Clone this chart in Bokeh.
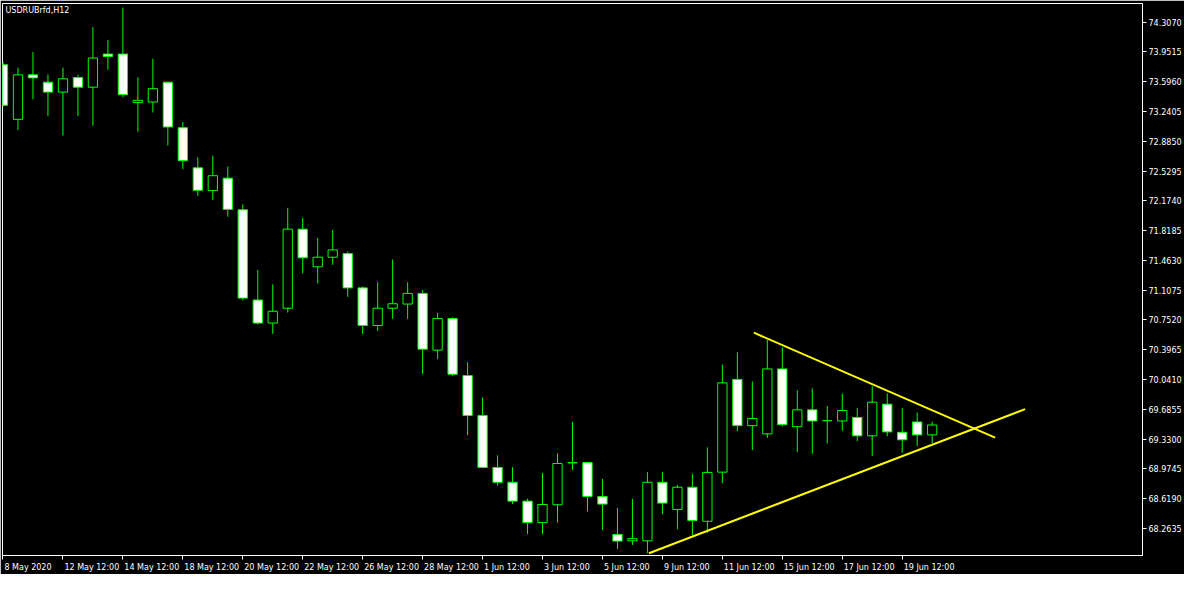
from bokeh.plotting import figure
from bokeh.models import (ColumnDataSource, FixedTicker, PrintfTickFormatter,
                          Label, Range1d)
from bokeh.embed import file_html
from bokeh.resources import INLINE

# ---------------- data (USDRUBrfd, H12 candles) ----------------
symbol_title = "USDRUBrfd,H12"

opens = [73.799, 73.147, 73.678, 73.590, 73.472, 73.646, 73.531, 73.926, 73.926, 73.347,
         73.354, 73.590, 73.047, 72.568, 72.297, 72.445, 72.067, 70.990, 70.715, 70.892,
         71.836, 71.387, 71.501, 71.544, 71.135, 70.686, 70.892, 70.942, 71.069, 70.391,
         70.769, 70.089, 69.612, 68.991, 68.814, 68.589, 68.333, 68.546, 69.045, 69.050,
         68.644, 68.192, 68.115, 68.115, 68.814, 68.490, 68.755, 68.349, 68.935, 70.042,
         69.490, 69.392, 70.167, 69.478, 69.679, 69.549, 69.546, 69.588, 69.369, 69.746,
         69.411, 69.534, 69.380]
highs = [73.835, 73.764, 73.949, 73.681, 73.764, 73.681, 74.248, 74.095, 74.481, 73.649,
         73.870, 73.595, 73.115, 72.693, 72.713, 72.583, 72.132, 71.347, 71.178, 72.091,
         71.969, 71.730, 71.828, 71.568, 71.155, 71.202, 71.474, 71.202, 71.108, 70.836,
         70.785, 70.246, 69.829, 69.136, 68.994, 68.617, 68.924, 69.160, 69.537, 69.054,
         68.853, 68.507, 68.617, 68.935, 68.935, 68.782, 68.915, 69.231, 70.219, 70.367,
         70.018, 70.514, 70.426, 69.912, 69.935, 69.723, 69.872, 69.703, 69.962, 69.876,
         69.703, 69.647, 69.537]
lows = [73.292, 73.020, 73.386, 73.186, 72.953, 73.186, 73.071, 73.740, 73.410, 73.000,
        73.229, 72.835, 72.552, 72.233, 72.186, 71.985, 70.986, 70.698, 70.585, 70.840,
        71.308, 71.187, 71.411, 71.029, 70.585, 70.620, 70.765, 70.765, 70.108, 70.285,
        70.084, 69.376, 68.983, 68.774, 68.554, 68.195, 68.195, 68.333, 68.962, 68.467,
        68.242, 68.018, 68.065, 67.967, 68.431, 68.254, 68.183, 68.212, 68.802, 69.423,
        69.199, 69.345, 69.478, 69.175, 69.156, 69.278, 69.431, 69.305, 69.128, 69.364,
        69.168, 69.246, 69.281]
closes = [73.315, 73.678, 73.642, 73.472, 73.631, 73.531, 73.879, 73.897, 73.442, 73.374,
          73.513, 73.056, 72.654, 72.300, 72.474, 72.072, 71.013, 70.715, 70.856, 71.836,
          71.494, 71.501, 71.588, 71.135, 70.686, 70.892, 70.946, 71.069, 70.403, 70.769,
          70.104, 69.612, 68.991, 68.814, 68.589, 68.333, 68.549, 69.038, 69.050, 68.644,
          68.554, 68.112, 68.141, 68.814, 68.566, 68.755, 68.357, 68.932, 70.001, 69.490,
          69.576, 70.167, 69.502, 69.679, 69.546, 69.551, 69.671, 69.369, 69.770, 69.416,
          69.321, 69.380, 69.498]

# trend lines (bar index, price) of the triangle
upper_line_bar = [50.1, 66.2]
upper_line_price = [70.600, 69.348]
lower_line_bar = [43.1, 68.2]
lower_line_price = [67.967, 69.687]

# axis ticks
price_ticks = [74.3070, 73.9515, 73.5960, 73.2405, 72.8850, 72.5295, 72.1740, 71.8185,
               71.4630, 71.1075, 70.7520, 70.3965, 70.0410, 69.6855, 69.3300, 68.9745,
               68.6190, 68.2635]
time_labels = ["8 May 2020", "12 May 12:00", "14 May 12:00", "18 May 12:00", "20 May 12:00",
               "22 May 12:00", "26 May 12:00", "28 May 12:00", "1 Jun 12:00", "3 Jun 12:00",
               "5 Jun 12:00", "9 Jun 12:00", "11 Jun 12:00", "15 Jun 12:00", "17 Jun 12:00",
               "19 Jun 12:00"]
bars_per_label = 4

# ---------------- styling / layout ----------------
FONT = "DejaVu Sans"
FS_PX = 8
FS = f"{FS_PX}px"
CANDLE = "#00FF00"
W, H = 1184, 574
BL, BT, BR, BB = 2, 3, 41, 15
PX_PER_BAR = 15.0

n = len(opens)
bar_idx = list(range(n))
time_tick_pos = [i * bars_per_label for i in range(len(time_labels))]

frame_w = W - BL - BR
x0 = -0.033
x1 = x0 + frame_w / PX_PER_BAR
y0, y1 = 67.94, 74.53

# MetaTrader draws the time labels starting at the tick (left aligned);
# Bokeh centres axis labels, so the labelled (major) ticks sit at each label's
# centre and the visible tick marks are drawn as minor ticks at the bar itself.
_adv = {" ": 0.318, ":": 0.337, "M": 0.863, "a": 0.613, "y": 0.592, "J": 0.295,
        "u": 0.634, "n": 0.634}
def _text_w(s):
    return sum(_adv.get(ch, 0.636) for ch in s) * FS_PX

label_centres = [t + (_text_w(s) / 2 + 1.5) / PX_PER_BAR for t, s in zip(time_tick_pos, time_labels)]

p = figure(width=W, height=H, output_backend="svg", toolbar_location=None,
           x_range=Range1d(x0, x1), y_range=Range1d(y0, y1),
           y_axis_location="right",
           min_border_left=BL, min_border_top=BT, min_border_right=BR, min_border_bottom=BB,
           background_fill_color="black", border_fill_color="black")
p.outline_line_color = "white"
p.outline_line_width = 1
p.grid.visible = False

# y axis (right)
p.yaxis.ticker = FixedTicker(ticks=price_ticks)
p.yaxis.formatter = PrintfTickFormatter(format="%.4f")
p.yaxis.axis_line_color = "white"
p.yaxis.major_tick_line_color = "white"
p.yaxis.major_tick_out = 4
p.yaxis.major_tick_in = 0
p.yaxis.minor_tick_line_color = None
p.yaxis.major_label_text_color = "white"
p.yaxis.major_label_text_font = FONT
p.yaxis.major_label_text_font_size = FS
p.yaxis.major_label_standoff = 2

# x axis (below)
p.xaxis.ticker = FixedTicker(ticks=label_centres, minor_ticks=time_tick_pos)
p.xaxis.major_label_overrides = {c: s for c, s in zip(label_centres, time_labels)}
p.xaxis.axis_line_color = "white"
p.xaxis.major_tick_line_color = None
p.xaxis.major_tick_out = 0
p.xaxis.major_tick_in = 0
p.xaxis.minor_tick_line_color = "white"
p.xaxis.minor_tick_out = 4
p.xaxis.minor_tick_in = 0
p.xaxis.major_label_text_color = "white"
p.xaxis.major_label_text_font = FONT
p.xaxis.major_label_text_font_size = FS
p.xaxis.major_label_standoff = 3

# candles
src = ColumnDataSource(dict(
    x=bar_idx,
    low=lows, high=highs,
    top=[max(o, c) for o, c in zip(opens, closes)],
    bottom=[min(o, c) for o, c in zip(opens, closes)],
    fill=["white" if c < o else "black" for o, c in zip(opens, closes)],
))
p.segment(x0="x", y0="low", x1="x", y1="high", line_color=CANDLE, line_width=1, source=src)
p.vbar(x="x", width=0.62, top="top", bottom="bottom", fill_color="fill",
       line_color=CANDLE, line_width=1, source=src)

# triangle trend lines
p.line(upper_line_bar, upper_line_price, line_color="#FFFF00", line_width=2)
p.line(lower_line_bar, lower_line_price, line_color="#FFFF00", line_width=2)

# symbol title
p.add_layout(Label(x=x0, y=y1, text=symbol_title, x_offset=3, y_offset=-2,
                   text_align="left", text_baseline="top",
                   text_color="white", text_font=FONT, text_font_size=FS))

open("out.html", "w").write(file_html(p, INLINE))
